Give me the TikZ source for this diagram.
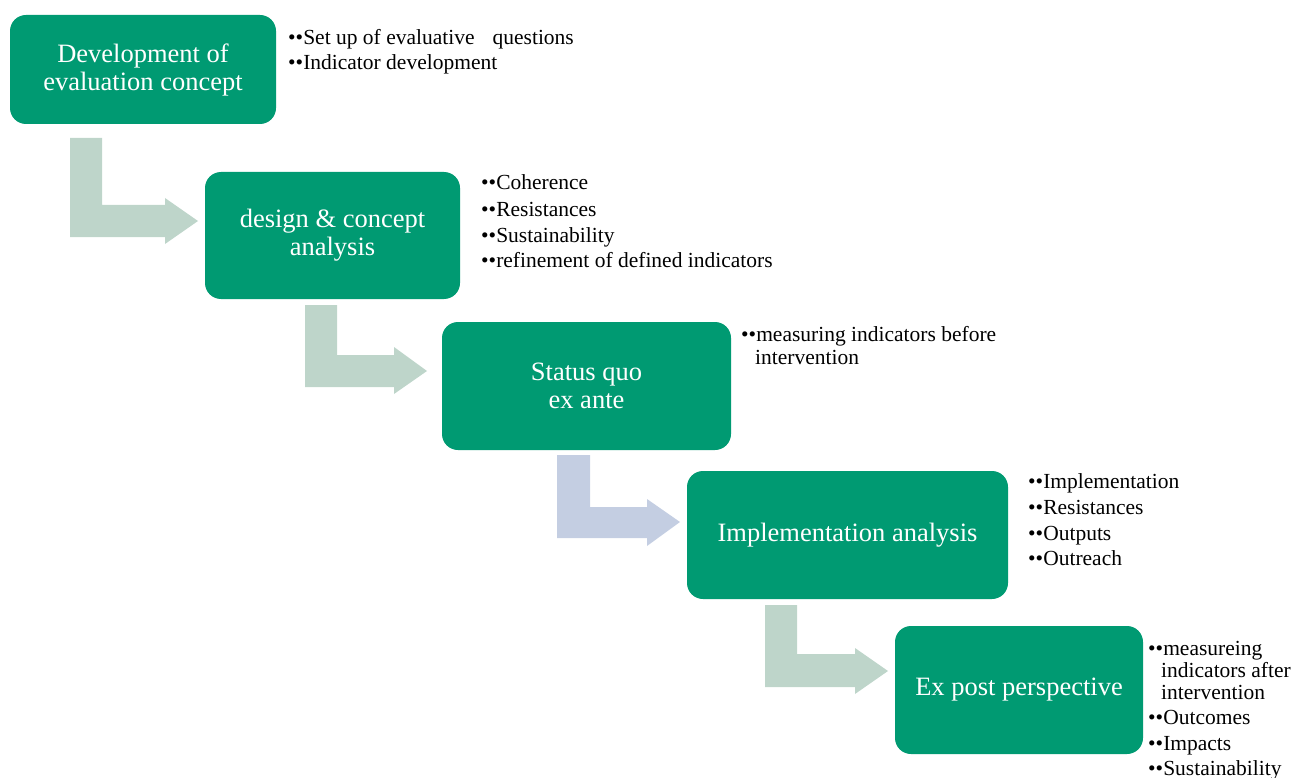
\documentclass[tikz,border=0pt]{standalone}
\usepackage{fontspec}
\setmainfont{Liberation Serif}
\definecolor{boxgreen}{RGB}{0,154,114}
\definecolor{arrowgreen}{RGB}{190,213,202}
\definecolor{arrowblue}{RGB}{196,206,226}
\begin{document}
\begin{tikzpicture}[x=1pt,y=-1pt,
  stagebox/.style={rectangle, rounded corners=16pt, fill=boxgreen, text=white, align=center,
    font=\fontsize{26.5}{28}\selectfont, inner sep=0pt},
  bullet/.style={anchor=base west, inner sep=0pt, font=\fontsize{21.5}{25}\selectfont},
  bentarrow/.style={draw=none}]
\useasboundingbox (0,0) rectangle (1306,778);
% boxes
\node[stagebox, minimum width=266pt, minimum height=109pt] (box1) at (143,69.5) {Development of\\evaluation concept};
\node[stagebox, minimum width=255pt, minimum height=127pt] (box2) at (332.5,235.5) {design \& concept\\analysis};
\node[stagebox, minimum width=289pt, minimum height=128pt] (box3) at (586.5,386) {Status quo\\ex ante};
\node[stagebox, minimum width=321pt, minimum height=128pt] (box4) at (847.5,535) {Implementation analysis};
\node[stagebox, minimum width=248pt, minimum height=128pt] (box5) at (1019,690) {Ex post perspective};
% bent arrows
\fill[arrowgreen] (70,138) -- (102,138) -- (102,205) -- (165,205) -- (165,198) -- (198,221) -- (165,244) -- (165,237) -- (70,237) -- cycle;
\fill[arrowgreen] (305,305) -- (337,305) -- (337,355) -- (394,355) -- (394,347) -- (427,371) -- (394,394) -- (394,387) -- (305,387) -- cycle;
\fill[arrowblue] (557,455) -- (590,455) -- (590,507) -- (647,507) -- (647,499) -- (680,522) -- (647,546) -- (647,538) -- (557,538) -- cycle;
\fill[arrowgreen] (765,605) -- (797,605) -- (797,654) -- (855,654) -- (855,648) -- (888,671) -- (855,694) -- (855,687) -- (765,687) -- cycle;
% bullets box1
\node[bullet] (b1a) at (288,45) {••Set up of evaluative\hspace{18pt}questions};
\node[bullet] (b1b) at (288,70) {••Indicator development};
% bullets box2
\node[bullet] (b2a) at (481,190) {••Coherence};
\node[bullet] (b2b) at (481,216) {••Resistances};
\node[bullet] (b2c) at (481,242) {••Sustainability};
\node[bullet] (b2d) at (481,267) {••refinement of defined indicators};
% bullets box3
\node[bullet] (b3a) at (741,341) {••measuring indicators before};
\node[bullet] (b3b) at (755,364) {intervention};
% bullets box4
\node[bullet] (b4a) at (1028,488) {••Implementation};
\node[bullet] (b4b) at (1028,514) {••Resistances};
\node[bullet] (b4c) at (1028,540) {••Outputs};
\node[bullet] (b4d) at (1028,565) {••Outreach};
% bullets box5
\node[bullet] (b5a) at (1148,655) {••measureing};
\node[bullet] (b5b) at (1161,677) {indicators after};
\node[bullet] (b5c) at (1161,699) {intervention};
\node[bullet] (b5d) at (1148,724) {••Outcomes};
\node[bullet] (b5e) at (1148,750) {••Impacts};
\node[bullet] (b5f) at (1148,775) {••Sustainability};
\end{tikzpicture}
\end{document}
